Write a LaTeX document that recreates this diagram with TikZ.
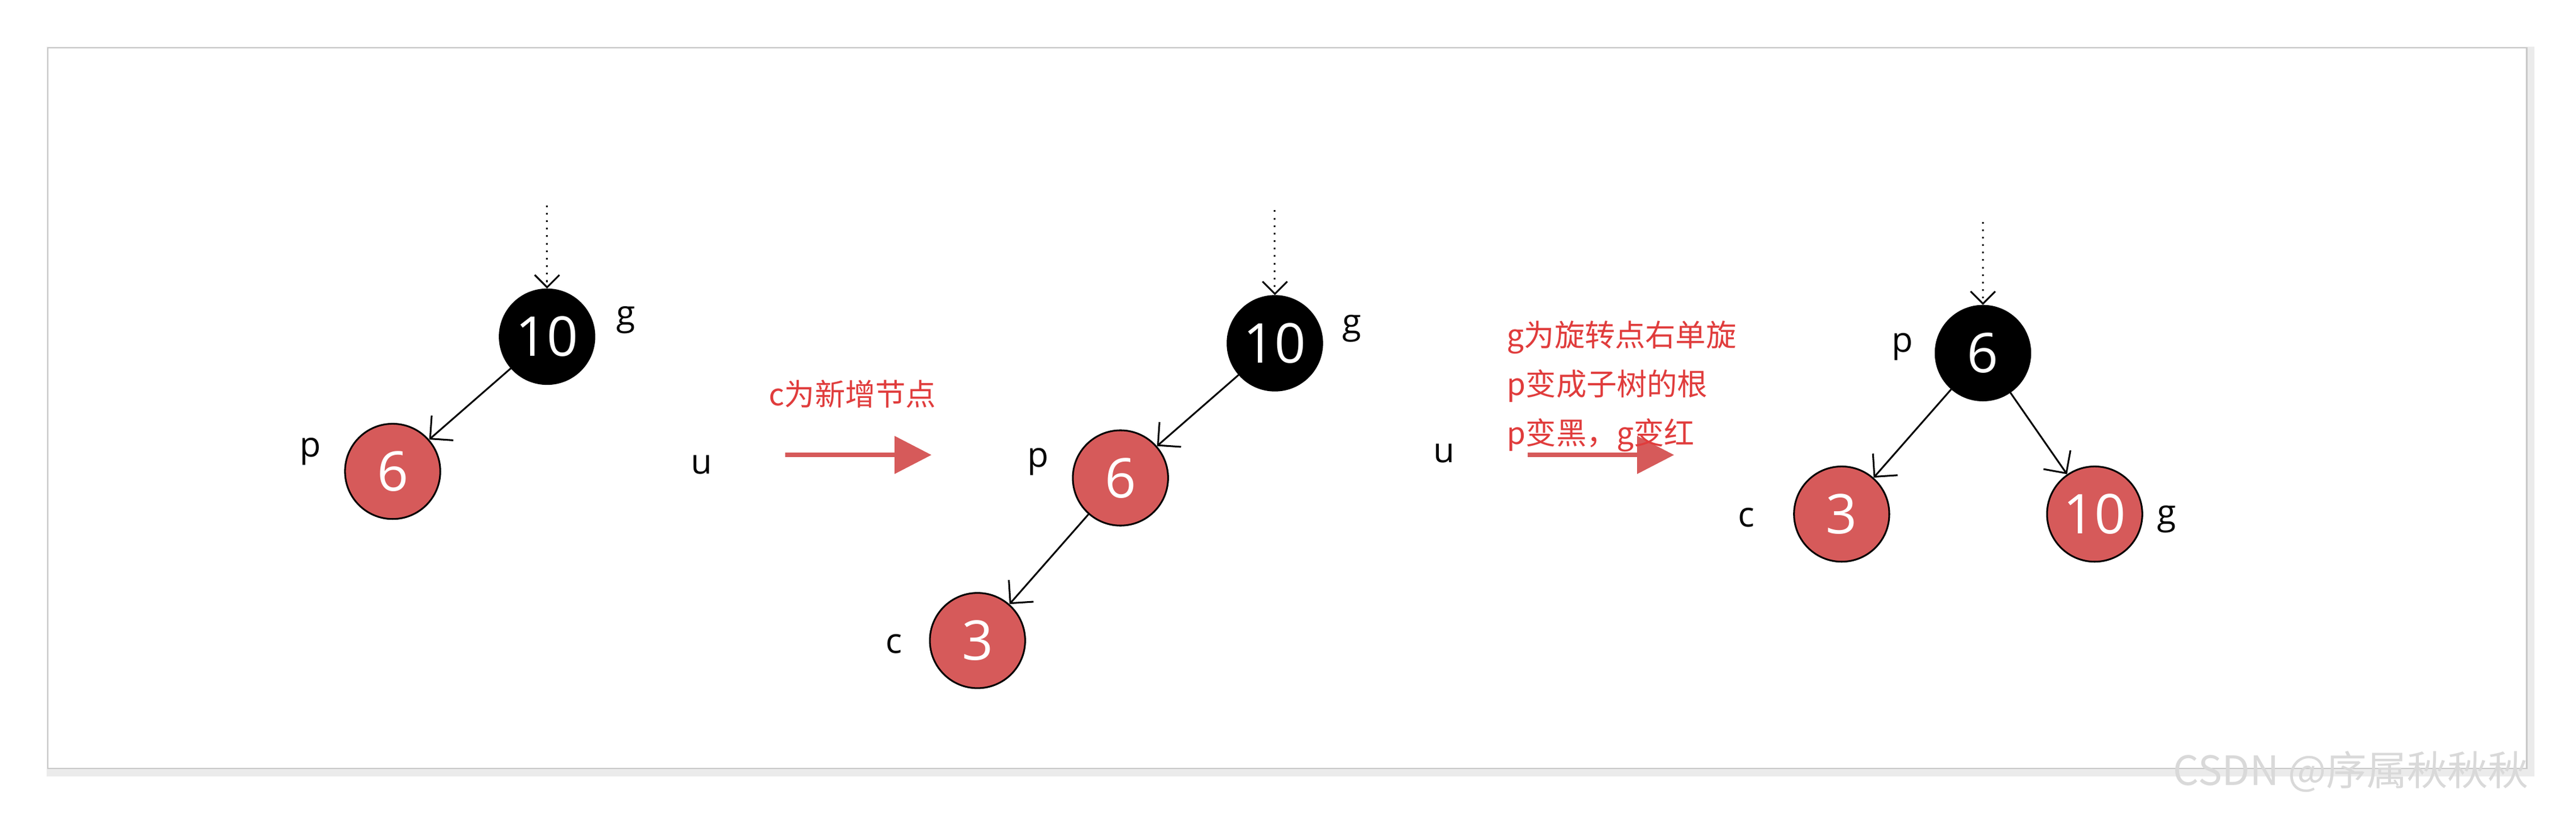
\documentclass[tikz,border=0pt]{standalone}
\usepackage{fontspec}
\setmainfont{Open Sans}
\newfontfamily\cjk{Noto Sans CJK SC}
\usetikzlibrary{arrows.meta}
\definecolor{rbred}{RGB}{214,90,90}
\definecolor{txtred}{RGB}{224,60,60}
\tikzset{
  blacknode/.style={circle,fill=black,draw=black,minimum size=1.16cm,inner sep=0pt,text=white,font=\fontsize{19}{19}\selectfont},
  rednode/.style={circle,fill=rbred,draw=black,line width=0.6pt,minimum size=1.16cm,inner sep=0pt,text=white,font=\fontsize{19}{19}\selectfont},
  tag/.style={font=\fontsize{12}{12}\selectfont},
  edge/.style={-{Straight Barb[length=2mm]},line width=0.6pt},
  entry/.style={-{Straight Barb[length=1.5mm]},dotted,line width=0.6pt},
  turn/.style={-{Triangle[length=4.5mm,width=4.5mm]},line width=1.5pt,draw=rbred},
  note/.style={text=txtred,font=\cjk\fontsize{10.5}{17}\selectfont,align=left}
}
\begin{document}
\begin{tikzpicture}[x=0.02cm,y=-0.02cm]
            \useasboundingbox (0,0) rectangle (1568,498);
            \fill[white] (0,0) rectangle (1568,498);
            \draw[black!8,line width=3pt] (31,31) rectangle (1540,470);
            \draw[black!22,fill=white] (29,29) rectangle (1538,468);

            % first tree
            \node[blacknode] (ga) at (333,205) {10};
            \node[rednode] (pa) at (239,287) {6};
            \coordinate (ta) at (333,125);
            \draw[entry] (ta) -- (ga);
            \draw[edge] (ga) -- (pa);
            \node[tag] (lga) at (381,195) {g};
            \node[tag] (lpa) at (189,275) {p};
            \node[tag] (lua) at (427,283) {u};

            % step 1
            \coordinate (sa) at (478,277);
            \coordinate (ea) at (567,277);
            \draw[turn] (sa) -- (ea);
            \node[note] (na) at (519,240) {c为新增节点};

            % second tree
            \node[blacknode] (gb) at (776,209) {10};
            \node[rednode] (pb) at (682,291) {6};
            \node[rednode] (cb) at (595,390) {3};
            \coordinate (tb) at (776,128);
            \draw[entry] (tb) -- (gb);
            \draw[edge] (gb) -- (pb);
            \draw[edge] (pb) -- (cb);
            \node[tag] (lgb) at (823,200) {g};
            \node[tag] (lpb) at (632,281) {p};
            \node[tag] (lcb) at (544,392) {c};
            \node[tag] (lub) at (879,276) {u};

            % step 2
            \coordinate (sb) at (930,277);
            \coordinate (eb) at (1019,277);
            \draw[turn] (sb) -- (eb);
            \node[note,anchor=north west,inner sep=0pt] (nb) at (917,195) {g为旋转点右单旋\\p变成子树的根\\p变黑，g变红};

            % third tree
            \node[blacknode] (pc) at (1207,215) {6};
            \node[rednode] (cc) at (1121,313) {3};
            \node[rednode] (gc) at (1275,313) {10};
            \coordinate (tc) at (1207,135);
            \draw[entry] (tc) -- (pc);
            \draw[edge] (pc) -- (cc);
            \draw[edge] (pc) -- (gc);
            \node[tag] (lpc) at (1158,211) {p};
            \node[tag] (lcc) at (1063,315) {c};
            \node[tag] (lgc) at (1319,316) {g};

            \node[text=black!15,font=\cjk\fontsize{14}{14}\selectfont] (mark) at (1431,470) {CSDN @序属秋秋秋};
\end{tikzpicture}
\end{document}
